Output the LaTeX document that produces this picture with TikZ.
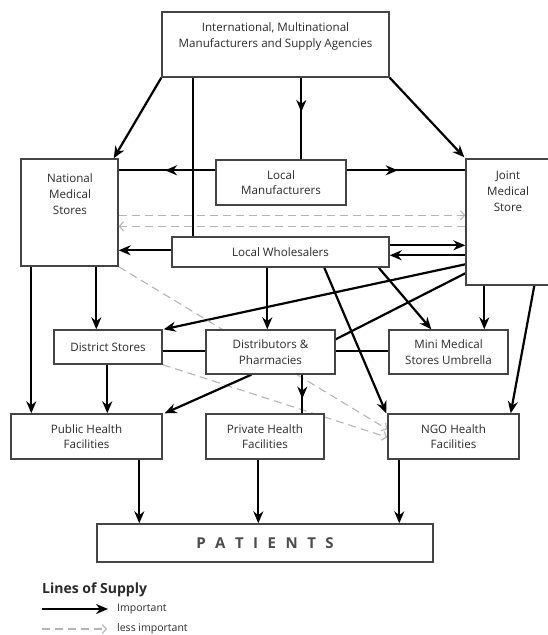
\documentclass[tikz,border=0pt]{standalone}
\usepackage{fontspec}
\setmainfont{Open Sans}
\usetikzlibrary{arrows.meta,calc,decorations.markings}
\pgfdeclarelayer{bg}
\pgfsetlayers{bg,main}
\definecolor{boxline}{HTML}{444444}
\definecolor{txt}{HTML}{2A2A2A}
\definecolor{lessgray}{HTML}{B4B4B4}
\tikzset{
  box/.style={draw=boxline, line width=1.4pt, fill=white, inner sep=0pt, align=center,
              text=txt, font=\fontsize{11.6}{15.5}\selectfont},
  lab/.style={inner sep=0pt, align=center, text=txt, font=\fontsize{11.6}{16}\selectfont},
  impl/.style={line width=2.2pt, draw=black},
  imp/.style={impl, -{Stealth[length=12pt,width=10pt]}},
  midarr/.style={postaction={decorate}, decoration={markings,
      mark=at position #1 with {\arrow{Stealth[length=12pt,width=10pt]}}}},
  lessimp/.style={draw=lessgray, line width=1.1pt, dash pattern=on 8pt off 5pt,
      -{Straight Barb[length=4pt,width=9pt]}},
}
\begin{document}
\begin{tikzpicture}[x=1pt,y=-1pt]
\useasboundingbox (0,0) rectangle (548,635);
% boxes
\node[box, minimum width=227, minimum height=65] (intl) at (275.5,44.5) {};
\node[lab] (intlT) at (275.5,36) {International, Multinational\\Manufacturers and Supply Agencies};
\node[box, minimum width=97, minimum height=107] (nms) at (69.5,212.5) {};
\node[lab] (nmsT) at (70,194) {National\\Medical\\Stores};
\node[box, minimum width=130, minimum height=45] (lm) at (281,182.5) {Local\\Manufacturers};
\node[box, minimum width=92, minimum height=126] (jms) at (512,222) {};
\node[lab] (jmsT) at (508,191) {Joint\\Medical\\Store};
\node[box, minimum width=217, minimum height=30] (lw) at (280.5,252) {Local Wholesalers};
\node[box, minimum width=108, minimum height=34] (ds) at (108,347) {District Stores};
\node[box, minimum width=129, minimum height=44] (dp) at (270.5,352) {Distributors \&\\Pharmacies};
\node[box, minimum width=119, minimum height=44] (mm) at (448.5,352) {Mini Medical\\Stores Umbrella};
\node[box, minimum width=151, minimum height=45] (ph) at (86.5,436.5) {Public Health\\Facilities};
\node[box, minimum width=118, minimum height=45] (pv) at (265,436.5) {Private Health\\Facilities};
\node[box, minimum width=131, minimum height=45] (ngo) at (453.5,436.5) {NGO Health\\Facilities};
\node[box, minimum width=336, minimum height=38, text=black!70,
      font=\fontsize{15}{17}\selectfont\bfseries] (pat) at (265,543)
  {P\hspace{9.5pt}A\hspace{9.5pt}T\hspace{9.5pt}I\hspace{9.5pt}E\hspace{9.5pt}N\hspace{9.5pt}T\hspace{9.5pt}S};
% connectors
\begin{pgfonlayer}{bg}
\draw[imp] (intl.south west) -- ($(nms.north east)+(-5,0)$);
\draw[impl] ($(intl.south west)+(32,0)$) -- ($(lw.north west)+(22,0)$);
\draw[impl, midarr=0.42] ($(intl.south west)+(140,0)$) -- ($(lm.north west)+(86,0)$);
\draw[imp] (intl.south east) -- ($(jms.north west)+(-1,-1)$);
\draw[impl, midarr=0.52] ($(lm.north west)+(0,11)$) -- ($(nms.north east)+(0,12)$);
\draw[impl, midarr=0.43] ($(lm.north east)+(0,11)$) -- ($(jms.north west)+(0,12)$);
\draw[lessimp] ($(nms.north east)+(0,57)$) -- ($(jms.north west)+(0,57)$);
\draw[lessimp] ($(jms.north west)+(0,68)$) -- ($(nms.north east)+(0,68)$);
\draw[imp] ($(lw.north west)+(0,14)$) -- ($(nms.north east)+(0,92)$);
\draw[imp] ($(lw.north east)+(0,9)$) -- ($(jms.north west)+(0,87)$);
\draw[imp] ($(jms.north west)+(0,97)$) -- ($(lw.north east)+(0,19)$);
\draw[imp] ($(lw.south west)+(96,0)$) -- ($(dp.north west)+(62,0)$);
\draw[imp] ($(lw.south west)+(153,0)$) -- ($(ngo.north west)+(-1,0)$);
\draw[imp] ($(lw.south east)+(-11,0)$) -- ($(mm.north west)+(43,0)$);
\draw[imp] ($(jms.north west)+(0,106)$) -- ($(ds.north east)+(1,0)$);
\draw[impl] ($(jms.north west)+(0,115)$) -- ($(dp.north east)+(0,10)$);
\draw[imp] ($(jms.south west)+(19,0)$) -- ($(mm.north west)+(96,0)$);
\draw[imp] ($(jms.south west)+(69,0)$) -- ($(ngo.north east)+(-9,0)$);
\draw[imp] ($(nms.south west)+(11,0)$) -- ($(ph.north west)+(21,0)$);
\draw[imp] ($(nms.south west)+(76,0)$) -- ($(ds.north west)+(43,0)$);
\draw[lessimp] (nms.south east) -- ($(ngo.north west)+(0,16)$);
\draw[lessimp] (ds.south east) -- ($(ngo.north west)+(0,24)$);
\draw[imp] ($(ds.south west)+(54,0)$) -- ($(ph.north west)+(97,0)$);
\draw[impl] ($(ds.north east)+(0,22)$) -- ($(dp.north west)+(0,22)$);
\draw[impl] ($(dp.north east)+(0,22)$) -- ($(mm.north west)+(0,22)$);
\draw[imp] ($(dp.south west)+(46,0)$) -- ($(ph.north east)+(2,0)$);
\draw[impl, midarr=0.62] ($(dp.south west)+(97,0)$) -- ($(pv.north west)+(97,0)$);
\draw[imp] ($(ph.south west)+(129,0)$) -- ($(pat.north west)+(43,0)$);
\draw[imp] ($(pv.south west)+(53,0)$) -- ($(pat.north west)+(162,0)$);
\draw[imp] ($(ngo.south west)+(12,0)$) -- ($(pat.north west)+(303,0)$);
\end{pgfonlayer}
% legend
\node[anchor=west, inner sep=0pt, text=txt, font=\fontsize{14}{16}\selectfont\bfseries] (legT) at (42,590) {Lines of Supply};
\coordinate (l1a) at (42,609);
\coordinate (l1b) at (108,609);
\draw[imp] (l1a) -- (l1b);
\node[anchor=west, inner sep=0pt, text=txt, font=\fontsize{10.5}{12}\selectfont] (l1t) at (117,609) {Important};
\coordinate (l2a) at (42,629);
\coordinate (l2b) at (107,629);
\draw[lessimp] (l2a) -- (l2b);
\node[anchor=west, inner sep=0pt, text=txt, font=\fontsize{10.5}{12}\selectfont] (l2t) at (117,629) {less important};
\end{tikzpicture}
\end{document}
